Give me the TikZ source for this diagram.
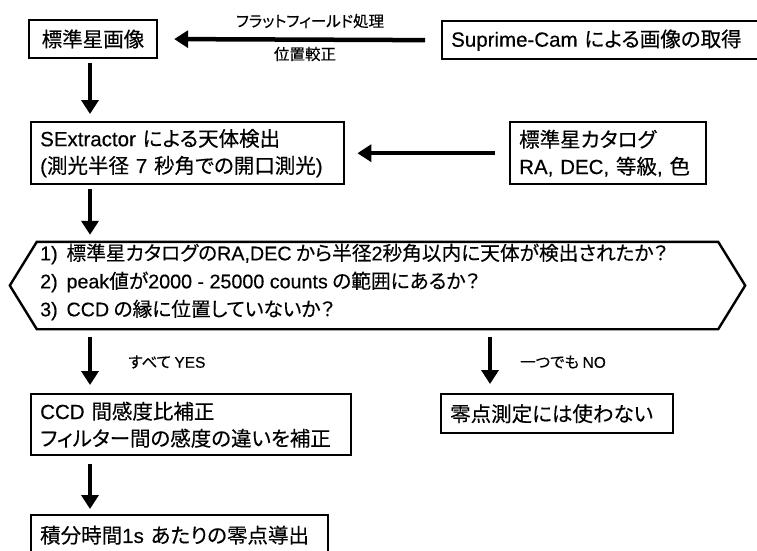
\documentclass[tikz,border=0pt]{standalone}
\usepackage{fontspec}
\setmainfont{Noto Sans CJK JP}[RawFeature={+palt}, FakeBold=0.3]
\newfontfamily\lat{Liberation Sans}[FakeBold=0.4]
\usetikzlibrary{arrows.meta}
\begin{document}
\begin{tikzpicture}[x=1pt,y=-1pt,
  box/.style={draw, line width=2.4pt, rectangle, align=left, inner xsep=9pt, inner ysep=0pt,
    font=\fontsize{20.5}{27}\selectfont},
  arr/.style={line width=4.5pt, -{Triangle[length=14pt,width=17pt]}},
  lbl/.style={font=\fontsize{15.5}{17}\selectfont, inner sep=0pt}]
\useasboundingbox (0,0) rectangle (757,550);
\clip (0,0) rectangle (757,550);
\fill[white] (0,0) rectangle (757,550);
% nodes
\node[box, align=center, minimum width=128pt, minimum height=38pt] (img) at (93,39) {標準星画像};
\node[box, anchor=north west, text width=340pt, minimum height=38pt] (sup) at (441,20) {{\lat Suprime-Cam} による画像の取得};
\node[box, anchor=north west, text width=295pt, minimum height=62pt] (sex) at (30,121) {{\lat SExtractor} による天体検出\\{\lat(}測光半径 {\lat 7} 秒角での開口測光{\lat)}};
\node[box, anchor=north west, text width=178pt, minimum height=62pt] (cat) at (509,121) {標準星カタログ\\{\lat RA, DEC,} 等級{\lat ,} 色};
\node[draw=none, minimum width=681pt, minimum height=87pt, inner sep=0pt] (hex) at (377.5,285.5) {};
\draw[line width=2.4pt, line join=miter] (hex.north west) -- (hex.north east) -- ([xshift=27pt]hex.east) -- (hex.south east) -- (hex.south west) -- ([xshift=-27pt]hex.west) -- cycle;
\node[anchor=west, align=left, inner sep=0pt, font=\fontsize{19.7}{28}\selectfont] (hext) at (40,282) {{\lat 1)}\ \ 標準星カタログの{\lat RA,DEC} から半径{\lat 2}秒角以内に天体が検出されたか？\\{\lat 2)}\ \ {\lat peak}値が{\lat 2000 - 25000 counts} の範囲にあるか？\\{\lat 3)}\ \ {\lat CCD} の縁に位置していないか？};
\node[box, anchor=north west, text width=302pt, minimum height=61pt] (ccd) at (30,393) {{\lat CCD} 間感度比補正\\フィルター間の感度の違いを補正};
\node[box, anchor=north west, text width=214pt, minimum height=39pt] (nouse) at (440,393) {零点測定には使わない};
\node[box, anchor=north west, text width=279pt, minimum height=40pt] (zp) at (30,514) {積分時間{\lat 1s} あたりの零点導出};
% column coordinates
\coordinate (cl) at (90,0);
\coordinate (cr) at (490,0);
% connectors
\draw[arr, shorten <=16pt, shorten >=16pt] (sup.west) -- (img.east);
\draw[arr, shorten <=4pt, shorten >=7pt] (img.south -| cl) -- (sex.north -| cl);
\draw[arr, shorten <=14pt, shorten >=12pt] (cat.west) -- (sex.east);
\draw[arr, shorten <=4pt, shorten >=7pt] (sex.south -| cl) -- (hex.north -| cl);
\draw[arr, shorten <=8pt, shorten >=8pt] (hex.south -| cl) -- (ccd.north -| cl);
\draw[arr, shorten <=8pt, shorten >=9pt] (hex.south -| cr) -- (nouse.north -| cr);
\draw[arr, shorten <=8pt, shorten >=5pt] (ccd.south -| cl) -- (zp.north -| cl);
% labels
\node[lbl] (l1) at (310,21) {フラットフィールド処理};
\node[lbl] (l2) at (305,54) {位置較正};
\node[lbl] (l3) at (167,362) {すべて {\lat YES}};
\node[lbl] (l4) at (563,362) {一つでも {\lat NO}};
\end{tikzpicture}
\end{document}
